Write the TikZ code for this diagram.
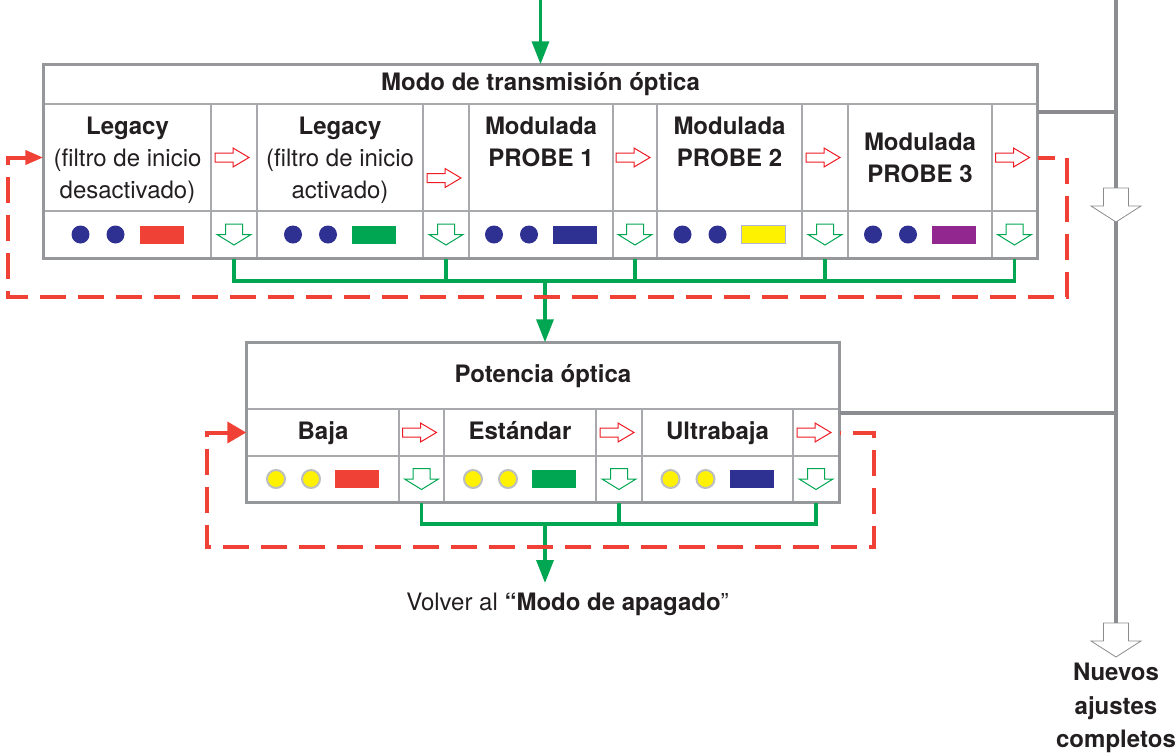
\documentclass[tikz,border=0pt]{standalone}
\usepackage{fontspec}
\setmainfont{TeX Gyre Heros}
\usetikzlibrary{calc}
\usetikzlibrary{arrows.meta}
\definecolor{tabgray}{HTML}{A7A9AC}
\definecolor{busgray}{HTML}{8A8C8F}
\definecolor{txtdark}{HTML}{231F20}
\definecolor{fred}{HTML}{EF4136}
\definecolor{gred}{HTML}{ED1C24}
\definecolor{fgreen}{HTML}{00A651}
\definecolor{fblue}{HTML}{2E3192}
\definecolor{fyellow}{HTML}{FFF200}
\definecolor{fpurple}{HTML}{92278F}
\definecolor{ylwedge}{HTML}{B1B3D6}
\definecolor{dotedge}{HTML}{BCBEC0}
\tikzset{
  cell/.style={draw=tabgray, line width=1.5pt, inner sep=0pt, align=center, text=txtdark},
  outer/.style={draw=busgray!90, line width=3pt},
  grn/.style={draw=fgreen, line width=3.5pt},
  grnarr/.style={grn, -{Triangle[length=23pt,width=17pt]}},
  reddash/.style={draw=fred, line width=4pt, dash pattern=on 26pt off 12pt},
  bus/.style={draw=busgray, line width=4pt},
  redglyph/.style={draw=gred, fill=white, line width=1pt},
  grnglyph/.style={draw=fgreen, fill=white, line width=1pt},
  wglyph/.style={draw=busgray, fill=white, line width=0.8pt}
}
\newcommand{\redarr}[1]{\draw[redglyph, shift={(#1)}] (-19,-4.5) -- (-1,-4.5) -- (-1,-9.5) -- (15,0) -- (-1,9.5) -- (-1,4.5) -- (-19,4.5) -- cycle;}
\newcommand{\downarr}[1]{\draw[grnglyph, shift={(#1)}] (-8.5,-10.5) -- (8.5,-10.5) -- (8.5,0) -- (17,0) -- (0,10.5) -- (-17,0) -- (-8.5,0) -- cycle;}
\newcommand{\bigarr}[1]{\draw[wglyph, shift={(#1)}] (-12.5,-17) -- (12.5,-17) -- (12.5,1) -- (25,1) -- (0,17) -- (-25,1) -- (-12.5,1) -- cycle;}
\newcommand{\leds}[3]{\path[#2] ($(#1)+(-47,0)$) circle (9pt) ($(#1)+(-12,0)$) circle (9pt); \path[#3] ($(#1)+(12,-9)$) rectangle ($(#1)+(56,9)$);}

\begin{document}
\begin{tikzpicture}[x=1pt, y=-1pt, font=\fontsize{24}{32}\selectfont]
    \useasboundingbox (0,0) rectangle (1176,753);
    %transmision
    \node[cell, minimum width=993pt, minimum height=39pt] (tt) at (540.5,84.5) {\bfseries Modo de transmisión óptica};
    \foreach \n/\c/\w/\t in {l1/127.5/167/{\rule{0pt}{23pt}\textbf{Legacy}\\(filtro de inicio\\desactivado)}, a1/234/46/{},
        l2/340/166/{\rule{0pt}{23pt}\textbf{Legacy}\\(filtro de inicio\\activado)}, a2/446/46/{},
        m1/541/144/{\textbf{Modulada}\\\textbf{PROBE 1}\\\mbox{}}, a3/635/44/{},
        m2/729.5/145/{\textbf{Modulada}\\\textbf{PROBE 2}\\\mbox{}}, a4/825/46/{},
        m3/920/144/{\textbf{Modulada}\\\textbf{PROBE 3}}, a5/1014.5/45/{}} {
        \node[cell, minimum width=\w pt, minimum height=107pt] (\n) at (\c,157.5) {\t};
        \node[cell, minimum width=\w pt, minimum height=47pt] (\n-b) at (\c,234.5) {};}
    \draw[outer] (tt.north west) rectangle (a5-b.south east);

    \leds{l1-b}{fill=fblue}{fill=fred}
    \leds{l2-b}{fill=fblue}{fill=fgreen}
    \leds{m1-b}{fill=fblue}{fill=fblue}
    \leds{m2-b}{fill=fblue}{fill=fyellow, draw=ylwedge, line width=1.5pt}
    \leds{m3-b}{fill=fblue}{fill=fpurple}
    \redarr{a1} \redarr{$(a2)+(0,20.5)$} \redarr{a3} \redarr{a4} \redarr{a5}
    \foreach \n in {a1-b,a2-b,a3-b,a4-b,a5-b} {\downarr{\n}}

    %potencia
    \node[cell, minimum width=592pt, minimum height=66pt] (pt) at (543,376) {\bfseries Potencia óptica};
    \foreach \n/\c/\w/\t in {b1/323/152/{\textbf{Baja}}, c1/421.5/45/{},
        b2/520/152/{\textbf{Estándar}}, c2/619/46/{},
        b3/717.5/151/{\textbf{Ultrabaja}}, c3/816/46/{}} {
        \node[cell, minimum width=\w pt, minimum height=47pt, text height=18pt, text depth=5pt] (\n) at (\c,432.5) {\t};
        \node[cell, minimum width=\w pt, minimum height=46pt] (\n-b) at (\c,479) {};}
    \draw[outer] (pt.north west) rectangle (c3-b.south east);

    \leds{b1-b}{fill=fyellow, draw=dotedge, line width=2pt}{fill=fred}
    \leds{b2-b}{fill=fyellow, draw=dotedge, line width=2pt}{fill=fgreen}
    \leds{b3-b}{fill=fyellow, draw=dotedge, line width=2pt}{fill=fblue}
    \redarr{c1} \redarr{c2} \redarr{c3}
    \foreach \n in {c1-b,c2-b,c3-b} {\downarr{\n}}

    %green flow
    \coordinate (src) at (540.5,0);
    \coordinate (gb1) at (545,281);
    \coordinate (gb2) at (545,524);
    \draw[grnarr] (src) -- (tt.north);
    \draw[grn] (a1-b.south) |- (a5-b.south |- gb1) -- (a5-b.south);
    \foreach \n in {a2-b,a3-b,a4-b} \draw[grn] (\n.south) -- (\n.south |- gb1);
    \draw[grnarr] (gb1) -- (gb1 |- pt.north);
    \draw[grn] (c1-b.south) |- (c3-b.south |- gb2) -- (c3-b.south);
    \draw[grn] (c2-b.south) -- (c2-b.south |- gb2);
    \node[anchor=north, inner ysep=10pt, inner xsep=0pt, text=txtdark] (ret) at (567.5,583) {Volver al \textbf{“Modo de apagado}”};
    \draw[grnarr] (gb2) -- (gb2 |- ret.north);

    %red loops
    \draw[reddash, {Triangle[length=18pt,width=14pt]}-] (l1.west) -- (8,157.5) |- (1067,297) |- (a5.east);
    \draw[reddash, {Triangle[length=19pt,width=21pt]}-] (b1.west) -- (207,432.5) |- (874,547) |- (c3.east);

    %gray bus
    \coordinate (gtop) at (1116,0);
    \coordinate (j1) at (1116,112);
    \coordinate (j2) at (1116,413);
    \coordinate (wend) at (1116,623);
    \draw[bus] (gtop) -- (wend);
    \draw[bus] (j1 -| a5.east) -- (j1);
    \draw[bus] (j2 -| c3.east) -- (j2);
    \bigarr{1116,205}
    \bigarr{1116,640}
    \node[anchor=north, inner sep=0pt, align=center, text=txtdark, font=\bfseries\fontsize{24}{33.5}\selectfont] (fin) at (1116,663) {Nuevos\\ajustes\\completos};
\end{tikzpicture}
\end{document}
